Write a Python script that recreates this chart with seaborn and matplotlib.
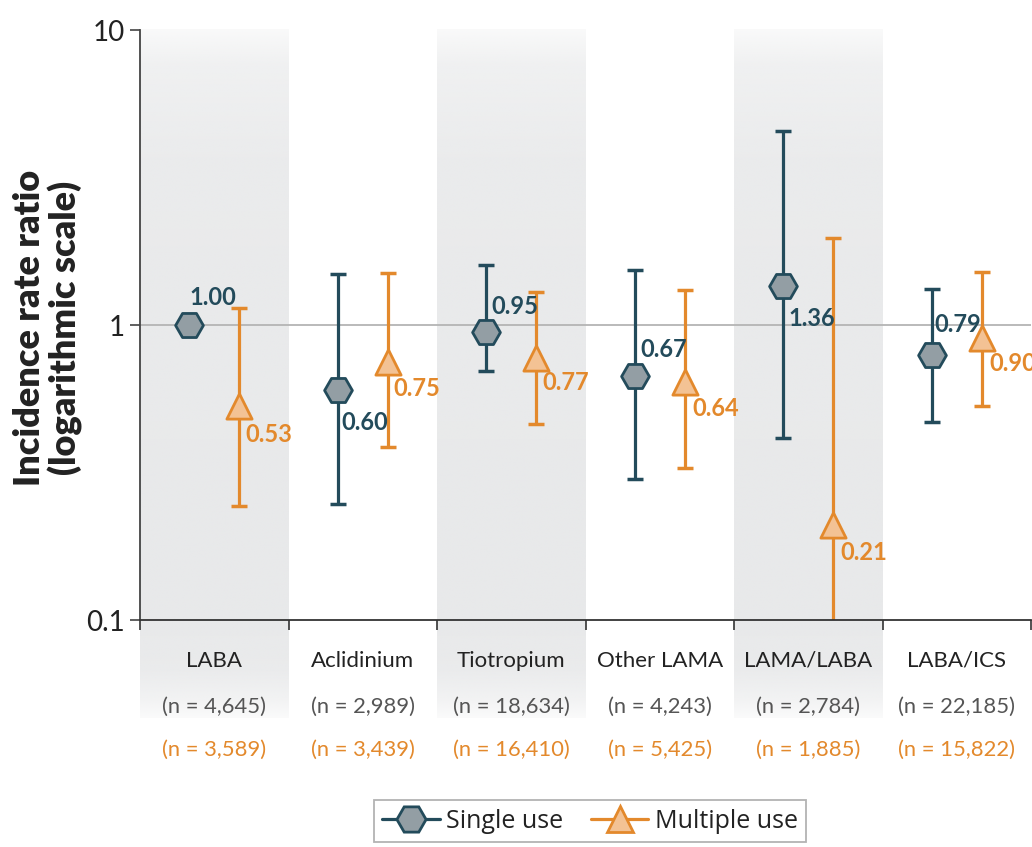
import numpy as np
import pandas as pd
import matplotlib
matplotlib.use("Agg")
import matplotlib.pyplot as plt
from matplotlib.lines import Line2D
import seaborn as sns

# ---- data -------------------------------------------------------------
categories = ["LABA", "Aclidinium", "Tiotropium", "Other LAMA", "LAMA/LABA", "LABA/ICS"]
n_single = ["4,645", "2,989", "18,634", "4,243", "2,784", "22,185"]
n_multiple = ["3,589", "3,439", "16,410", "5,425", "1,885", "15,822"]

single_irr = [1.00, 0.60, 0.95, 0.67, 1.36, 0.79]
single_lo = [np.nan, 0.247, 0.70, 0.30, 0.414, 0.47]
single_hi = [np.nan, 1.49, 1.60, 1.54, 4.55, 1.32]

multiple_irr = [0.53, 0.75, 0.77, 0.64, 0.21, 0.90]
multiple_lo = [0.243, 0.386, 0.462, 0.327, 0.05, 0.531]
multiple_hi = [1.14, 1.50, 1.29, 1.31, 1.97, 1.51]

series_names = ["Single use", "Multiple use"]

# ---- styling ----------------------------------------------------------
TEAL = "#234b5b"
TEAL_FILL = "#939ea4"
ORANGE = "#e3892c"
ORANGE_FILL = "#f3c294"
BAND = "#e8e9ea"

# label offsets in points (dx, dy, ha) for each value label
single_label_pos = [(0, 20, "left"), (3, -23, "left"), (4, 18, "left"),
                    (4, 19, "left"), (4, -24, "left"), (2, 22, "left")]
multiple_label_pos = [(4, -20, "left"), (4, -19, "left"), (4, -17, "left"),
                      (5, -19, "left"), (5, -20, "left"), (5, -18, "left")]

sns.set_theme(style="white")
plt.rcParams["font.family"] = ["Lato", "DejaVu Sans"]

W, H = 1032, 847
fig = plt.figure(figsize=(W / 100, H / 100), dpi=100)
fig.patch.set_facecolor("white")

ax_left, ax_right = 140 / W, 1031 / W
ax_bottom, ax_top = 1 - 620 / H, 1 - 30 / H
ax_w = ax_right - ax_left

# background axes for the alternating shaded columns (extend into label area)
ax_bg = fig.add_axes([ax_left, 0, ax_w, 1], zorder=0)
ax_bg.set_xlim(-0.5, len(categories) - 0.5)
ax_bg.set_ylim(0, 1)
ax_bg.axis("off")
band_top = ax_top
band_bot = 1 - 718 / H
nrows = 400
t = np.linspace(0, 1, nrows)  # 0 = top, 1 = bottom
alpha = np.interp(t, [0.0, 0.05, 0.2, 0.85, 0.93, 0.975, 1.0],
                  [0.25, 0.65, 0.9, 1.0, 0.9, 0.55, 0.2])
rgb = matplotlib.colors.to_rgb(BAND)
grad = np.zeros((nrows, 2, 4))
grad[..., :3] = rgb
grad[..., 3] = alpha[:, None]
for i in range(0, len(categories), 2):
    ax_bg.imshow(grad, extent=[i - 0.5, i + 0.5, band_bot, band_top],
                 aspect="auto", interpolation="bilinear", zorder=0)

ax = fig.add_axes([ax_left, ax_bottom, ax_w, ax_top - ax_bottom], zorder=1)
ax.patch.set_alpha(0)

x = np.arange(len(categories))
offset = 0.17
df = pd.DataFrame({
    "pos": np.concatenate([x - offset, x + offset]),
    "irr": single_irr + multiple_irr,
    "lo": single_lo + multiple_lo,
    "hi": single_hi + multiple_hi,
    "use": np.repeat(series_names, len(categories)),
})

ax.set_yscale("log")
ax.set_ylim(0.1, 10)
ax.set_xlim(-0.5, len(categories) - 0.5)

# reference line at IRR = 1
ax.axhline(1, color="#b4b4b4", lw=1.3, zorder=1)

styles = {
    "Single use": dict(edge=TEAL, fill=TEAL_FILL, marker="H", size=400),
    "Multiple use": dict(edge=ORANGE, fill=ORANGE_FILL, marker="^", size=330),
}

for name in series_names:
    sub = df[df["use"] == name]
    st = styles[name]
    ok = sub["lo"].notna()
    s = sub[ok]
    ax.errorbar(s["pos"], s["irr"], yerr=[s["irr"] - s["lo"], s["hi"] - s["irr"]],
                fmt="none", ecolor=st["edge"], elinewidth=2.3, capsize=5.5,
                capthick=2.5, zorder=2)
    sns.scatterplot(data=sub, x="pos", y="irr", marker=st["marker"], s=st["size"],
                    color=st["fill"], edgecolor=st["edge"], linewidth=2.0,
                    ax=ax, zorder=3, legend=False)

# value labels
for i in range(len(categories)):
    dx, dy, ha = single_label_pos[i]
    ax.annotate(f"{single_irr[i]:.2f}", (x[i] - offset, single_irr[i]),
                xytext=(dx, dy), textcoords="offset points", ha=ha, va="center",
                color=TEAL, fontsize=17, fontweight="bold", zorder=4)
    dx, dy, ha = multiple_label_pos[i]
    ax.annotate(f"{multiple_irr[i]:.2f}", (x[i] + offset, multiple_irr[i]),
                xytext=(dx, dy), textcoords="offset points", ha=ha, va="center",
                color=ORANGE, fontsize=17, fontweight="bold", zorder=4)

# axes styling
for side in ["top", "right"]:
    ax.spines[side].set_visible(False)
ax.spines["left"].set_color("#444444")
ax.spines["bottom"].set_color("#333333")
ax.spines["left"].set_linewidth(1.3)
ax.spines["bottom"].set_linewidth(1.3)

ax.set_yticks([0.1, 1, 10])
ax.set_yticklabels(["0.1", "1", "10"])
ax.yaxis.set_minor_locator(matplotlib.ticker.NullLocator())
ax.tick_params(axis="y", which="major", length=7, width=1.2, color="#444444",
               labelsize=20, labelcolor="#222222", pad=4, left=True)

ax.set_xticks(np.arange(-0.5, len(categories) + 0.5, 1.0))
ax.set_xticklabels([])
ax.set_xticks(x, minor=True)
ax.set_xticklabels(categories, minor=True)
ax.tick_params(axis="x", which="major", length=7, width=1.2, color="#333333",
               bottom=True)
ax.tick_params(axis="x", which="minor", length=0, labelsize=16,
               labelcolor="#222222", pad=22)
ax.set_xlabel("")
ax.set_ylabel("")

for i in range(len(categories)):
    ax.text(x[i], -0.147, f"(n = {n_single[i]})", transform=ax.get_xaxis_transform(),
            ha="center", va="center", fontsize=15.8, color="#555555")
    ax.text(x[i], -0.220, f"(n = {n_multiple[i]})", transform=ax.get_xaxis_transform(),
            ha="center", va="center", fontsize=15.8, color=ORANGE)

fig.text(48 / W, 1 - 328 / H, "Incidence rate ratio\n(logarithmic scale)",
         rotation=90, ha="center", va="center", multialignment="center",
         fontsize=26, fontweight="heavy", color="#222222", linespacing=1.08)

# legend
handles = [
    Line2D([0], [0], color=TEAL, lw=2.3, marker="H", markersize=21,
           markerfacecolor=TEAL_FILL, markeredgecolor=TEAL, markeredgewidth=2),
    Line2D([0], [0], color=ORANGE, lw=2.3, marker="^", markersize=19,
           markerfacecolor=ORANGE_FILL, markeredgecolor=ORANGE, markeredgewidth=2),
]
leg = fig.legend(handles, series_names, loc="center", bbox_to_anchor=(590 / W, 1 - 821 / H),
                 ncol=2, frameon=True, fancybox=False, handlelength=2.3,
                 handletextpad=0.25, columnspacing=1.1, borderpad=0.35,
                 prop={"family": ["Open Sans", "DejaVu Sans"], "size": 18})
leg.get_frame().set_edgecolor("#a0a0a0")
leg.get_frame().set_linewidth(1.3)
for txt in leg.get_texts():
    txt.set_color("#222222")

fig.savefig("out.png", dpi=100, facecolor="white")
